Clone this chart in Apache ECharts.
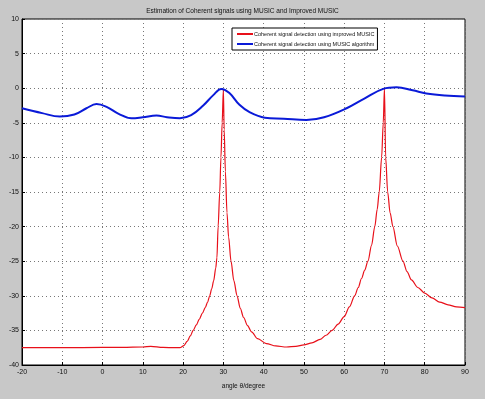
<!DOCTYPE html>
<html>
<head>
<meta charset="utf-8">
<script src="https://cdn.jsdelivr.net/npm/echarts@6/dist/echarts.min.js"></script>
<style>
html, body { margin: 0; padding: 0; background: #c8c8c8; }
#main { width: 485px; height: 399px; }
</style>
</head>
<body>
<div id="main"></div>
<script>
// angle (deg) / spectrum (dB) pairs
var improvedAngle = [-20, -10, 0, 5, 10, 12, 15, 18, 19.2, 20.2, 21, 21.8, 22.5, 23.3, 24, 24.8, 25.5, 26.1, 26.6, 27.1, 27.6, 28.1, 28.4, 28.7, 29.1, 29.4, 29.7, 30,
	30.2, 30.5, 30.9, 31.3, 31.9, 32.6, 33.4, 34.2, 35, 36, 37, 38.5, 40.7, 43, 45.7, 48, 50, 52, 54, 55.5, 57, 58.5, 60, 61.3, 62.6, 63.5, 64.3, 65.1, 65.9, 66.8, 67.6, 68.2, 68.7, 69.3, 69.7, 70,
	70.3, 70.8, 71.4, 72.1, 73.2, 74.6, 75.6, 76.7, 78.3, 80, 81.8, 83.7, 85.8, 87.9, 90];
var improvedDb = [-37.5, -37.5, -37.45, -37.45, -37.4, -37.3, -37.45, -37.5, -37.5, -37.2, -36.6, -35.8, -35, -34.2, -33.4, -32.5, -31.7, -30.9, -30, -29, -27.8, -26, -24.5, -20, -15, -10, -5, -0.2,
	-6, -12, -18, -21.5, -25, -27.8, -30, -31.8, -33.1, -34.3, -35.2, -36.2, -36.9, -37.25, -37.4, -37.3, -37.1, -36.8, -36.3, -35.7, -35, -34.1, -33, -31.6, -30, -28.8, -27.5, -26.3, -25, -22.7, -20, -17.5, -15, -10, -5, 0,
	-10, -15, -18, -20, -22.8, -25, -26.5, -27.7, -28.8, -29.6, -30.3, -30.9, -31.3, -31.6, -31.7];

var musicAngle = [-20, -15, -10.6, -7, -4, -1.5, 1, 4, 7.2, 10, 13.4, 16, 19.2, 22, 25, 27.5, 29.5, 31.5, 34, 36.6, 40.3, 45, 50.6, 55, 60.6, 65, 69.7, 73, 77, 80.4, 85, 90];
var musicDb = [-2.9, -3.6, -4.1, -3.8, -2.9, -2.3, -2.7, -3.7, -4.35, -4.2, -3.95, -4.2, -4.35, -3.9, -2.5, -1.0, -0.1, -0.7, -2.4, -3.5, -4.26, -4.4, -4.6, -4.2, -2.9, -1.5, -0.1, 0.13, -0.3, -0.75, -1.05, -1.2];

var xTicks = [-20, -10, 0, 10, 20, 30, 40, 50, 60, 70, 80, 90];
var yTicks = [10, 5, 0, -5, -10, -15, -20, -25, -30, -35, -40];

var seriesNames = ['Coherent signal detection using improved MUSIC', 'Coherent signal detection using MUSIC algorithm'];

function pairs(xs, ys) {
	return xs.map(function (x, i) { return [x, ys[i]]; });
}

var chart = echarts.init(document.getElementById('main'));
var font = "'Liberation Sans', Arial, sans-serif";

var option = {
	backgroundColor: '#c8c8c8',
	animation: false,
	textStyle: { fontFamily: font },
	title: {
		text: 'Estimation of Coherent signals using MUSIC and Improved MUSIC',
		left: 'center',
		top: 3,
		textStyle: { fontSize: 6.5, fontWeight: 'normal', color: '#111', fontFamily: font }
	},
	legend: {
		orient: 'vertical',
		left: 232,
		top: 28,
		padding: [3, 3, 3, 5],
		itemGap: 4,
		itemWidth: 16,
		itemHeight: 2,
		icon: 'rect',
		backgroundColor: '#fff',
		borderColor: '#000',
		borderWidth: 1,
		borderRadius: 0,
		textStyle: { fontSize: 5.5, color: '#111', fontFamily: font, padding: [0, 0, 0, -4] },
		data: seriesNames
	},
	grid: {
		left: 22,
		right: 20,
		top: 19,
		bottom: 34,
		containLabel: false,
		outerBoundsMode: 'none',
		show: true,
		backgroundColor: '#fff',
		borderColor: '#000',
		borderWidth: 1
	},
	xAxis: {
		type: 'value',
		min: -20,
		max: 90,
		interval: 10,
		name: 'angle θ/degree',
		nameLocation: 'middle',
		nameGap: 18,
		nameTextStyle: { fontSize: 6.5, color: '#111', fontFamily: font },
		axisLine: { onZero: false, lineStyle: { color: '#000' } },
		axisTick: { inside: true, length: 3, lineStyle: { color: '#000' } },
		axisLabel: {
			fontSize: 7, color: '#111', margin: 4,
			formatter: function (v) { return xTicks.indexOf(v) >= 0 ? String(v) : ''; }
		},
		splitLine: { lineStyle: { color: '#777', type: [1, 3], width: 1 } }
	},
	yAxis: {
		type: 'value',
		min: -40,
		max: 10,
		interval: 5,
		name: 'spectrum function P(θ)/dB',
		nameLocation: 'middle',
		nameGap: 18,
		nameTextStyle: { fontSize: 6.5, color: '#111', fontFamily: font },
		axisLine: { onZero: false, lineStyle: { color: '#000' } },
		axisTick: { inside: true, length: 3, lineStyle: { color: '#000' } },
		axisLabel: {
			fontSize: 7, color: '#111', margin: 3,
			formatter: function (v) { return yTicks.indexOf(v) >= 0 ? String(v) : ''; }
		},
		splitLine: { lineStyle: { color: '#777', type: [1, 3], width: 1 } }
	},
	series: [
		{
			name: seriesNames[0],
			type: 'line',
			showSymbol: false,
			symbol: 'none',
			smooth: 0.3,
			smoothMonotone: 'x',
			lineStyle: { color: '#e8101a', width: 1.2 },
			itemStyle: { color: '#e8101a' },
			data: pairs(improvedAngle, improvedDb)
		},
		{
			name: seriesNames[1],
			type: 'line',
			showSymbol: false,
			symbol: 'none',
			smooth: 0.4,
			lineStyle: { color: '#0a1ad8', width: 2 },
			itemStyle: { color: '#0a1ad8' },
			data: pairs(musicAngle, musicDb)
		}
	]
};
chart.setOption(option);
</script>
</body>
</html>
